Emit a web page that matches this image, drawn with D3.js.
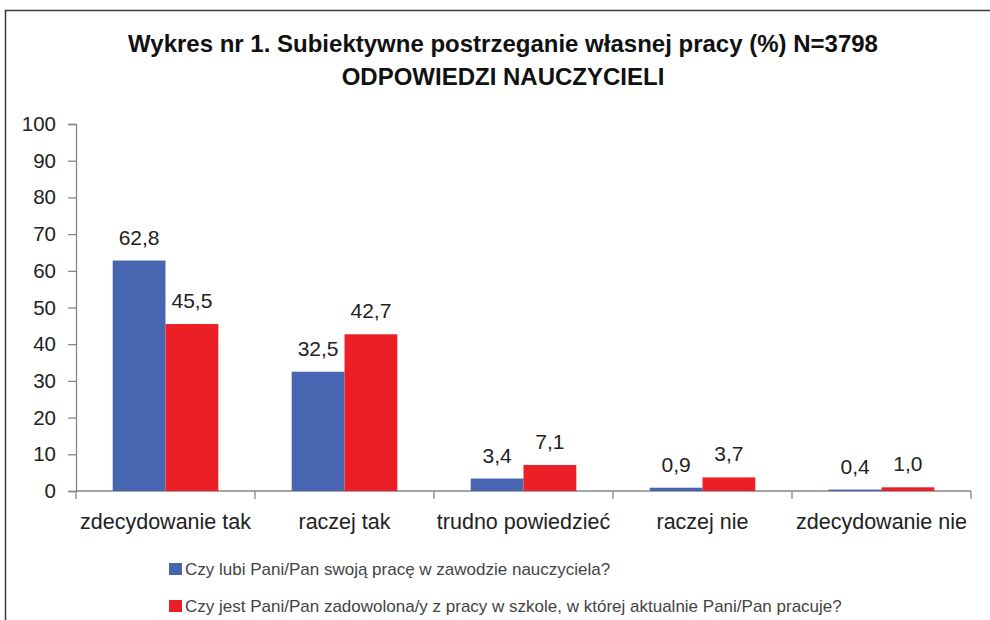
<!DOCTYPE html>
<html>
<head>
<meta charset="utf-8">
<script src="https://cdn.jsdelivr.net/npm/d3@7"></script>
<style>
  body { margin: 0; background: #fff; }
  svg { display: block; }
</style>
</head>
<body>
<div id="chart"></div>
<script>
// data
const categories = ["zdecydowanie tak", "raczej tak", "trudno powiedzieć", "raczej nie", "zdecydowanie nie"]
const seriesNames = [
  "Czy lubi Pani/Pan swoją pracę w zawodzie nauczyciela?",
  "Czy jest Pani/Pan zadowolona/y z pracy w szkole, w której aktualnie Pani/Pan pracuje?"
]
const likeJob = [62.8, 32.5, 3.4, 0.9, 0.4]
const satisfiedSchool = [45.5, 42.7, 7.1, 3.7, 1.0]
const yTicks = [0, 10, 20, 30, 40, 50, 60, 70, 80, 90, 100]
const titleLines = ["Wykres nr 1. Subiektywne postrzeganie własnej pracy (%) N=3798", "ODPOWIEDZI NAUCZYCIELI"]

const colors = ["#4766b2", "#ec1e26"]
const width = 990, height = 620
const font = "'Liberation Sans', Arial, sans-serif"

const svg = d3.select("#chart").append("svg")
  .attr("width", width)
  .attr("height", height)

// frame
svg.append("path")
  .attr("d", "M5.5,620 V10.5 H990")
  .attr("fill", "none")
  .attr("stroke", "#3a3a3a")
  .attr("stroke-width", 1.5)

// title
svg.selectAll(".title").data(titleLines).enter()
  .append("text")
  .attr("class", "title")
  .attr("x", 503)
  .attr("y", (d, i) => 52 + i * 33)
  .attr("text-anchor", "middle")
  .attr("font-family", font)
  .attr("font-weight", "bold")
  .attr("font-size", 24)
  .attr("fill", "#111")
  .text(d => d)

const x0 = d3.scaleBand()
  .domain(categories)
  .range([76, 971])
  .paddingInner(0.41)
  .paddingOuter(0.205)

const x1 = d3.scaleBand()
  .domain([0, 1])
  .range([0, x0.bandwidth()])

const y = d3.scaleLinear()
  .domain([0, 100])
  .range([491, 124])

// y axis
const yAxis = svg.append("g")
  .attr("transform", "translate(76,0)")
  .call(d3.axisLeft(y).tickValues(yTicks).tickSize(8).tickPadding(12))
yAxis.select(".domain").attr("stroke", "#868686").attr("stroke-width", 1.3)
yAxis.selectAll(".tick line").attr("stroke", "#868686").attr("stroke-width", 1.3)
yAxis.selectAll(".tick text")
  .attr("font-family", font)
  .attr("font-size", 20.5)
  .attr("fill", "#222")

// x axis: ticks sit on band boundaries
const xAxisG = svg.append("g")
  .attr("transform", "translate(0,491)")
xAxisG.append("line")
  .attr("x1", 76).attr("x2", 971)
  .attr("stroke", "#868686").attr("stroke-width", 1.3)
const boundaries = categories.map(c => x0(c) - x0.step() * x0.paddingInner() / 2)
boundaries.push(x0(categories[categories.length - 1]) + x0.bandwidth() + x0.step() * x0.paddingInner() / 2)
boundaries[0] = 76
xAxisG.selectAll(".xtick").data(boundaries).enter()
  .append("line")
  .attr("x1", d => d).attr("x2", d => d)
  .attr("y1", 0).attr("y2", 8)
  .attr("stroke", "#868686").attr("stroke-width", 1.3)
xAxisG.selectAll(".xlabel").data(categories).enter()
  .append("text")
  .attr("x", d => x0(d) + x0.bandwidth() / 2)
  .attr("y", 38)
  .attr("text-anchor", "middle")
  .attr("font-family", font)
  .attr("font-size", 21.5)
  .attr("fill", "#222")
  .text(d => d)

// bars
const series = [likeJob, satisfiedSchool]
const groups = svg.selectAll(".group").data(categories).enter()
  .append("g")
  .attr("transform", d => "translate(" + x0(d) + ",0)")

groups.selectAll("rect")
  .data((d, ci) => series.map((s, si) => ({ si: si, v: s[ci] })))
  .enter()
  .append("rect")
  .attr("x", d => x1(d.si))
  .attr("width", x1.bandwidth())
  .attr("y", d => y(d.v))
  .attr("height", d => y(0) - y(d.v))
  .attr("fill", d => colors[d.si])

groups.selectAll(".val")
  .data((d, ci) => series.map((s, si) => ({ si: si, v: s[ci] })))
  .enter()
  .append("text")
  .attr("class", "val")
  .attr("x", d => x1(d.si) + x1.bandwidth() / 2)
  .attr("y", d => y(d.v) - 16)
  .attr("text-anchor", "middle")
  .attr("font-family", font)
  .attr("font-size", 21)
  .attr("fill", "#222")
  .text(d => d3.format(".1f")(d.v).replace(".", ","))

// legend
const legend = svg.selectAll(".legend").data(seriesNames).enter()
  .append("g")
  .attr("transform", (d, i) => "translate(169," + (563 + i * 37) + ")")
legend.append("rect")
  .attr("width", 13).attr("height", 12)
  .attr("fill", (d, i) => colors[i])
legend.append("text")
  .attr("x", 16)
  .attr("y", 12)
  .attr("font-family", font)
  .attr("font-size", 17)
  .attr("fill", "#444")
  .text(d => d)
</script>
</body>
</html>
